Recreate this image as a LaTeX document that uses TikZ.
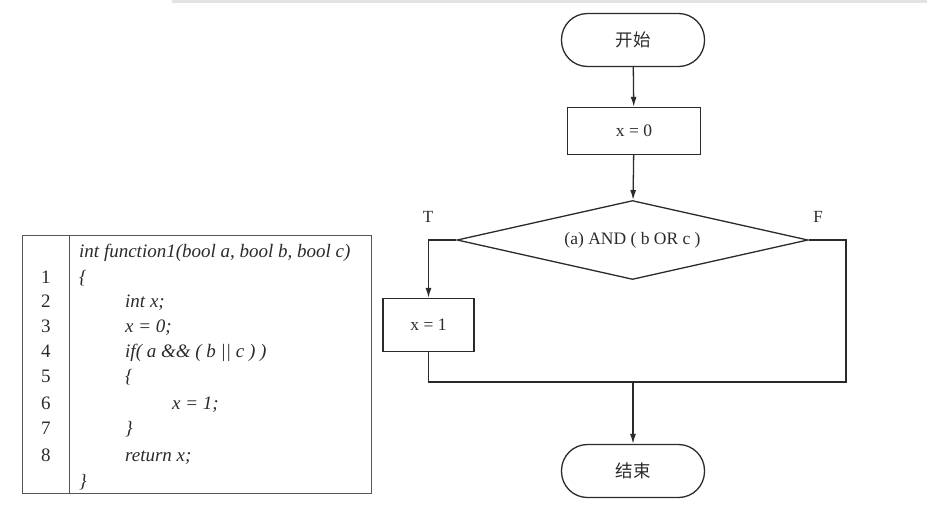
\documentclass[tikz,border=0pt]{standalone}
\usepackage{fontspec}
\setmainfont{Liberation Serif}
\newfontfamily\cjk{Noto Sans CJK SC}
\usetikzlibrary{shapes.geometric,arrows.meta}
\definecolor{ink}{HTML}{2A2A2A}
\tikzset{
  line/.style={draw=ink,line width=1.3pt},
  arr/.style={line,-{Latex[length=10pt,width=6pt]}},
  term/.style={line,rectangle,rounded corners=26pt,minimum width=143pt,minimum height=53pt,inner sep=0pt,font=\cjk\fontsize{17.5}{20}\selectfont,text=ink},
  proc/.style={line,rectangle,minimum width=133pt,minimum height=47pt,inner sep=0pt,font=\fontsize{17.5}{20}\selectfont,text=ink},
  dec/.style={line,diamond,aspect=4.44,minimum width=351pt,minimum height=79pt,inner sep=0pt,font=\fontsize{17.5}{20}\selectfont,text=ink},
  lbl/.style={font=\fontsize{17}{20}\selectfont,text=ink},
  code/.style={anchor=west,inner sep=0pt,text height=13pt,text depth=4pt,font=\itshape\fontsize{19}{22}\selectfont,text=ink},
  num/.style={anchor=center,inner sep=0pt,text height=13pt,text depth=4pt,font=\fontsize{19}{22}\selectfont,text=ink},
  tab/.style={draw=ink!80,line width=1pt}
}
\begin{document}
\begin{tikzpicture}[x=1pt,y=-1pt]
\useasboundingbox (0,0) rectangle (927,528);
\fill[gray!22] (172,0) rectangle (927,3);
% flowchart
\node[term] (start) at (633,40) {开始};
\node[proc] (b0) at (634,131) {x = 0};
\node[dec] (dia) at (632.5,240) {(a) AND ( b OR c )};
\node[proc,minimum width=91pt,minimum height=53pt] (b1) at (428.5,325) {x = 1};
\node[term] (end) at (633,471) {结束};
\node[lbl] (T) at (428,217) {T};
\node[lbl] (F) at (818,217) {F};
\coordinate (ml) at (428.5,382);
\coordinate (mr) at (846,382);
\draw[arr] (start) -- (b0);
\draw[arr] (b0) -- (dia);
\draw[arr] (dia.west) -| (b1.north);
\draw[line] (b1.south) -- (ml) -- (mr) -- (mr |- dia.east) -- (dia.east);
\draw[arr] (end.north |- mr) -- (end.north);
% code table
\draw[tab] (22,235) rectangle (371,493);
\draw[tab] (69,235) -- (69,493);
\node[code] (h) at (79,253) {int function1(bool a, bool b, bool c)};
\node[code] (c1) at (79,279) {\{};
\node[code] (c2) at (125,303) {int x;};
\node[code] (c3) at (125,328) {x = 0;};
\node[code] (c4) at (125,353) {if( a \&\& ( b || c ) )};
\node[code] (c5) at (125,378) {\{};
\node[code] (c6) at (172,405) {x = 1;};
\node[code] (c7) at (125,430) {\}};
\node[code] (c8) at (125,457) {return x;};
\node[code] (c9) at (79,483) {\}};
\foreach \n/\y in {1/279,2/303,3/328,4/353,5/378,6/405,7/430,8/457}
  \node[num] (n\n) at (46,\y) {\n};
\end{tikzpicture}
\end{document}
